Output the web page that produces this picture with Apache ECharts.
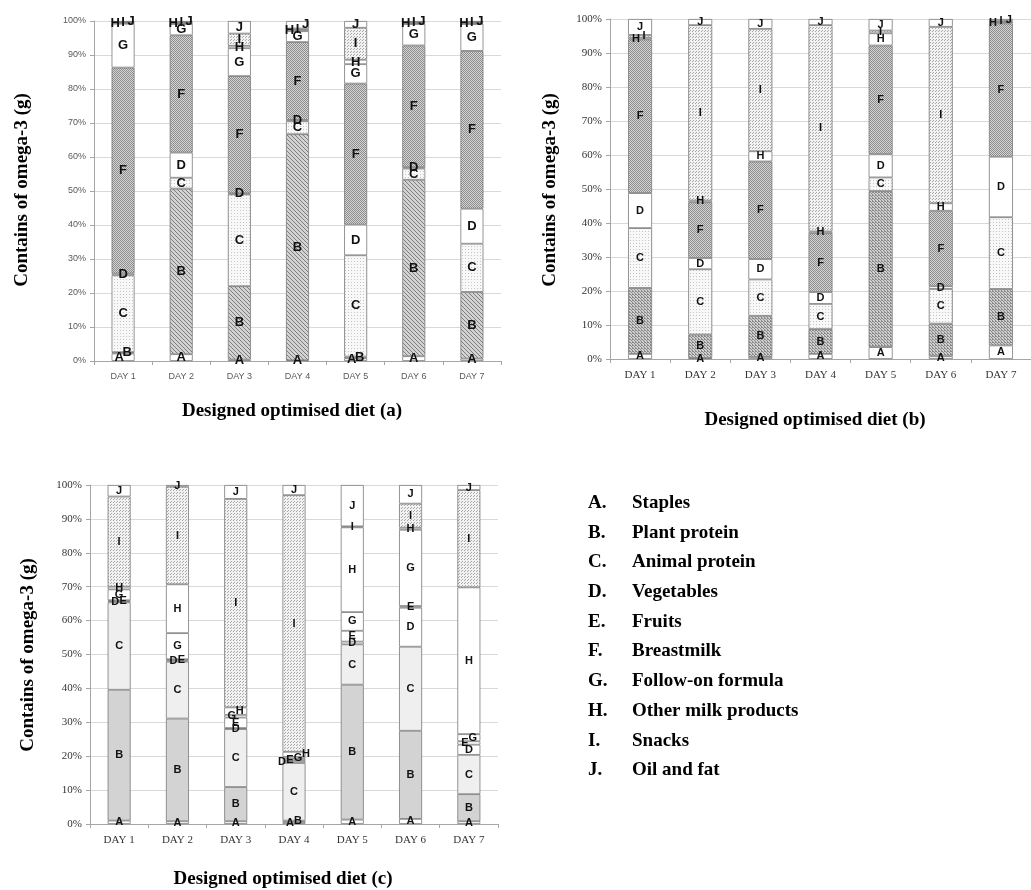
<!DOCTYPE html>
<html>
<head>
<meta charset="utf-8">
<script src="https://cdn.jsdelivr.net/npm/echarts@6/dist/echarts.min.js"></script>
<style>
  html, body { margin: 0; padding: 0; background: #fff; }
  #chart { width: 1031px; height: 890px; }
</style>
</head>
<body>
<div id="chart"></div>
<script>
var days = ['DAY 1', 'DAY 2', 'DAY 3', 'DAY 4', 'DAY 5', 'DAY 6', 'DAY 7']
var letters = ['A', 'B', 'C', 'D', 'E', 'F', 'G', 'H', 'I', 'J']
var groupNames = ['Staples', 'Plant protein', 'Animal protein', 'Vegetables', 'Fruits',
  'Breastmilk', 'Follow-on formula', 'Other milk products', 'Snacks', 'Oil and fat']
var yTicks = [0, 10, 20, 30, 40, 50, 60, 70, 80, 90, 100]

// % share of omega-3 per food group, one row per day, columns A..J
var dietA = [
  [2.2, 0.4, 22.6, 0.5, 0, 60.6, 12.9, 0.3, 0.2, 0.3],
  [2.0, 48.7, 3.2, 7.4, 0, 34.5, 3.3, 0.3, 0.3, 0.3],
  [0.4, 21.6, 27.0, 0.3, 0, 34.5, 8.2, 0.7, 3.6, 3.7],
  [0.2, 66.5, 3.8, 0.4, 0, 22.9, 3.2, 0.4, 0.4, 2.2],
  [0.8, 0.5, 29.8, 9.0, 0, 41.5, 5.7, 1.3, 9.4, 2.0],
  [1.4, 51.9, 3.3, 0.4, 0, 35.8, 6.3, 0.3, 0.3, 0.3],
  [0.7, 19.6, 14.2, 10.3, 0, 46.4, 7.9, 0.3, 0.3, 0.3]
]
var dietB = [
  [1.5, 19.4, 17.6, 10.3, 0, 45.2, 0, 0.5, 0.8, 4.7],
  [0.3, 6.9, 19.2, 3.3, 0, 16.4, 0, 0.5, 51.6, 1.8],
  [0.6, 12.1, 10.7, 6.0, 0, 28.7, 0, 3.0, 36.0, 2.9],
  [1.5, 7.3, 7.4, 3.5, 0, 17.3, 0, 0.5, 60.7, 1.8],
  [3.5, 45.9, 4.0, 6.8, 0, 32.0, 0, 3.6, 0.8, 3.4],
  [0.8, 9.6, 10.2, 0.8, 0, 22.2, 0, 2.2, 51.9, 2.3],
  [4.0, 16.6, 21.1, 17.8, 0, 39.2, 0, 0.4, 0.4, 0.5]
]
var dietC = [
  [1.0, 38.6, 25.8, 0.3, 0.3, 0, 3.2, 0.8, 26.6, 3.4],
  [0.8, 30.3, 16.8, 0.4, 0.3, 0, 7.7, 14.4, 28.8, 0.5],
  [0.8, 10.1, 17.1, 0.3, 3.1, 0, 0.8, 2.2, 61.5, 4.1],
  [0.5, 0.5, 17.0, 0.6, 0.6, 0, 0.6, 1.5, 75.7, 3.0],
  [1.3, 39.8, 11.9, 0.8, 3.2, 0, 5.5, 25.0, 0.3, 12.2],
  [1.5, 26.0, 24.8, 11.5, 0.5, 0, 22.5, 0.6, 7.1, 5.5],
  [0.8, 8.0, 11.6, 3.0, 1.0, 0, 2.1, 43.3, 28.7, 1.5]
]

function makePattern(size, bg, fg, dots) {
  var c = document.createElement('canvas')
  c.width = size
  c.height = size
  var ctx = c.getContext('2d')
  ctx.fillStyle = bg
  ctx.fillRect(0, 0, size, size)
  ctx.fillStyle = fg
  dots.forEach(function (d) { ctx.fillRect(d[0], d[1], 1, 1) })
  return { image: c, repeat: 'repeat' }
}

var hatch = makePattern(4, '#d2d2d2', '#7e7e7e', [[0, 0], [1, 1], [2, 2], [3, 3]])
var hatchB = makePattern(3, '#cfcfcf', '#8a8a8a', [[0, 0], [1, 1], [2, 2], [2, 0]])
var dense = makePattern(2, '#d4d4d4', '#8e8e8e', [[0, 0], [1, 1]])
var light = makePattern(3, '#f8f8f8', '#c6c6c6', [[0, 0]])
var dotted = makePattern(3, '#f2f2f2', '#a8a8a8', [[0, 0], [2, 1]])

var white = '#ffffff'
var fillsA = [white, hatch, light, white, white, dense, white, white, dotted, white]
var fillsB = [white, hatchB, light, white, white, dense, white, white, dotted, white]
var fillsC = [white, '#d3d3d3', '#efefef', white, white, dense, white, white, dotted, white]

var panels = [
  { data: dietA, fills: fillsA, left: 94, width: 407, top: 21, height: 340, barWidth: 23,
    font: 'Liberation Sans', fontSize: 9, tickColor: '#595959', letterSize: 13 },
  { data: dietB, fills: fillsB, left: 610, width: 425, top: 19, height: 340, barWidth: 24,
    font: 'Liberation Serif', fontSize: 11, tickColor: '#333', letterSize: 11 },
  { data: dietC, fills: fillsC, left: 90, width: 408, top: 485, height: 339, barWidth: 23,
    font: 'Liberation Serif', fontSize: 11, tickColor: '#333', letterSize: 11 }
]

// thin segments: spread the letters of a run left to right
function thinOffsets(row) {
  var out = row.map(function () { return 0 })
  var i = 0
  while (i < row.length) {
    if (row[i] > 0 && row[i] < 2.5) {
      var run = []
      while (i < row.length && (row[i] === 0 || row[i] < 2.5)) {
        if (row[i] > 0) run.push(i)
        i++
      }
      var step = 8
      run.forEach(function (idx, k) {
        out[idx] = (k - (run.length - 1) / 2) * step
      })
    } else {
      i++
    }
  }
  return out
}

var grids = []
var xAxes = []
var yAxes = []
var series = []

panels.forEach(function (p, pi) {
  grids.push({ left: p.left, top: p.top, width: p.width, height: p.height })
  xAxes.push({
    type: 'category',
    gridIndex: pi,
    data: days,
    axisLine: { lineStyle: { color: '#a6a6a6' } },
    axisTick: { show: true, length: 4, lineStyle: { color: '#a6a6a6' } },
    axisLabel: { color: p.tickColor, fontFamily: p.font, fontSize: p.fontSize, margin: 11 }
  })
  yAxes.push({
    type: 'value',
    gridIndex: pi,
    min: yTicks[0],
    max: yTicks[yTicks.length - 1],
    interval: 10,
    axisLine: { show: true, lineStyle: { color: '#a6a6a6' } },
    axisTick: { show: true, length: 4, lineStyle: { color: '#a6a6a6' } },
    splitLine: { lineStyle: { color: '#d9d9d9' } },
    axisLabel: { color: p.tickColor, fontFamily: p.font, fontSize: p.fontSize, margin: 8,
      formatter: '{value}%' }
  })

  var offsets = p.data.map(thinOffsets)

  letters.forEach(function (letter, li) {
    series.push({
      type: 'bar',
      name: letter,
      xAxisIndex: pi,
      yAxisIndex: pi,
      stack: 'diet' + pi,
      barWidth: p.barWidth,
      itemStyle: { color: p.fills[li], borderColor: '#7a7a7a', borderWidth: 0.8 },
      label: {
        show: true,
        position: 'inside',
        formatter: letter,
        color: '#111',
        fontFamily: 'Liberation Sans',
        fontWeight: 'bold',
        fontSize: p.letterSize
      },
      data: p.data.map(function (row, di) {
        var v = row[li]
        if (!v) return null
        return { value: v, label: { offset: [offsets[di][li], 0] } }
      })
    })
  })
})

var serif = 'Liberation Serif'
var graphics = [
  { type: 'text', x: 292, y: 411, style: { text: 'Designed optimised diet (a)', font: 'bold 19px ' + serif,
    fill: '#000', textAlign: 'center', textVerticalAlign: 'middle' } },
  { type: 'text', x: 815, y: 420, style: { text: 'Designed optimised diet (b)', font: 'bold 19px ' + serif,
    fill: '#000', textAlign: 'center', textVerticalAlign: 'middle' } },
  { type: 'text', x: 283, y: 879, style: { text: 'Designed optimised diet (c)', font: 'bold 19px ' + serif,
    fill: '#000', textAlign: 'center', textVerticalAlign: 'middle' } },
  { type: 'text', x: 22, y: 190, rotation: Math.PI / 2, style: { text: 'Contains of omega-3 (g)',
    font: 'bold 19px ' + serif, fill: '#000', textAlign: 'center', textVerticalAlign: 'middle' } },
  { type: 'text', x: 550, y: 190, rotation: Math.PI / 2, style: { text: 'Contains of omega-3 (g)',
    font: 'bold 19px ' + serif, fill: '#000', textAlign: 'center', textVerticalAlign: 'middle' } },
  { type: 'text', x: 28, y: 655, rotation: Math.PI / 2, style: { text: 'Contains of omega-3 (g)',
    font: 'bold 19px ' + serif, fill: '#000', textAlign: 'center', textVerticalAlign: 'middle' } }
]
groupNames.forEach(function (name, i) {
  var y = 503 + i * 29.7
  graphics.push({ type: 'text', x: 588, y: y, style: { text: letters[i] + '.', font: 'bold 19px ' + serif,
    fill: '#000', textVerticalAlign: 'middle' } })
  graphics.push({ type: 'text', x: 632, y: y, style: { text: name, font: 'bold 19px ' + serif,
    fill: '#000', textVerticalAlign: 'middle' } })
})

var myChart = echarts.init(document.getElementById('chart'))
myChart.setOption({
  animation: false,
  grid: grids,
  xAxis: xAxes,
  yAxis: yAxes,
  series: series,
  graphic: graphics
})
</script>
</body>
</html>
